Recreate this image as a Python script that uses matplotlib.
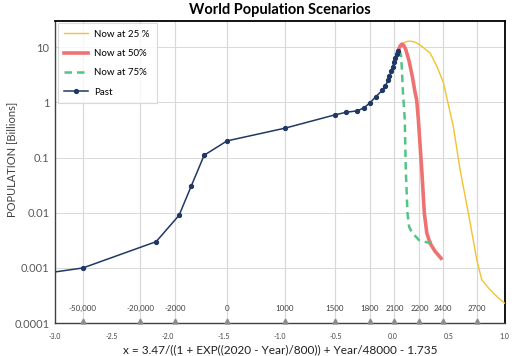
import matplotlib
matplotlib.use("Agg")
import matplotlib.pyplot as plt
import matplotlib.transforms as mtransforms

plt.rcParams["font.family"] = ["Lato", "DejaVu Sans"]

# past population (x on the compressed time scale, billions)
past_x = [-3.0, -2.754, -2.101, -1.897, -1.790, -1.674, -1.470, -0.954, -0.512, -0.408,
          -0.311, -0.254, -0.200, -0.147, -0.088, -0.062, -0.037, -0.026, -0.008,
          0.004, 0.016, 0.028, 0.040, 0.049]
past_y = [0.00085, 0.001, 0.003, 0.009, 0.03, 0.11, 0.2, 0.34, 0.59, 0.66,
          0.70, 0.79, 0.97, 1.26, 1.66, 1.99, 2.48, 2.93, 3.67,
          4.40, 5.42, 6.40, 7.46, 8.3]

# scenario curves
s25_x = [0.049, 0.07, 0.10, 0.13, 0.158, 0.20, 0.25, 0.30, 0.336, 0.396, 0.455,
         0.499, 0.543, 0.603, 0.677, 0.752, 0.796, 0.85, 0.899, 0.95, 1.0]
s25_y = [8.3, 10.0, 11.8, 12.6, 12.8, 12.3, 10.8, 8.9, 7.8, 4.5, 2.25,
         0.9, 0.365, 0.060, 0.0098, 0.0014, 0.00061, 0.00045, 0.00035, 0.00028, 0.00023]

s50_x = [0.049, 0.07, 0.085, 0.10, 0.12, 0.15, 0.18, 0.20, 0.217, 0.232, 0.262,
         0.276, 0.285, 0.307, 0.336, 0.381, 0.434]
s50_y = [8.3, 10.5, 11.3, 10.8, 9.0, 5.5, 2.8, 1.6, 1.1, 0.48, 0.060,
         0.020, 0.0098, 0.0043, 0.0028, 0.0020, 0.0015]

s75_x = [0.049, 0.065, 0.078, 0.085, 0.095, 0.104, 0.111, 0.12, 0.135, 0.15,
         0.179, 0.238, 0.311, 0.37]
s75_y = [8.3, 8.2, 7.0, 4.0, 1.5, 0.8, 0.48, 0.060, 0.0098, 0.0055,
         0.0043, 0.0032, 0.0029, 0.0029]

# year markers along the bottom axis
year_labels = ["-50,000", "-20,000", "-2000", "0", "1000", "1500", "1800",
               "2100", "2200", "2400", "2700"]
year_x = [-2.754, -2.244, -1.930, -1.472, -0.956, -0.512, -0.200,
          0.019, 0.241, 0.449, 0.752]

x_ticks = [-3.0, -2.5, -2.0, -1.5, -1.0, -0.5, 0.0, 0.5, 1.0]
y_ticks = [0.0001, 0.001, 0.01, 0.1, 1, 10]
y_ticklabels = ["0.0001", "0.001", "0.01", "0.1", "1", "10"]

fig = plt.figure(figsize=(5.15, 3.56), dpi=100)
ax = fig.add_axes([0.107, 0.092, 0.873, 0.850])

ax.set_yscale("log")
ax.set_xlim(-3.0, 1.0)
ax.set_ylim(0.0001, 30)

for xv in year_x:
    ax.axvline(xv, color="#d9d9d9", lw=0.9, zorder=0)
for yv in y_ticks[1:]:
    ax.axhline(yv, color="#d9d9d9", lw=0.7, zorder=0)

ax.plot(s25_x, s25_y, color="#f2c230", lw=1.0, label="Now at 25 %", zorder=3)
ax.plot(s50_x, s50_y, color="#ee7272", lw=2.6, label="Now at 50%", zorder=4)
ax.plot(s75_x, s75_y, color="#52c486", lw=1.8, ls=(0, (3, 2)), label="Now at 75%", zorder=5)
ax.plot(past_x, past_y, color="#1f3864", lw=1.1, marker="o", ms=2.8,
        markevery=list(range(1, len(past_x))), label="Past", zorder=6)

trans = mtransforms.blended_transform_factory(ax.transData, ax.transAxes)
for xv, lab in zip(year_x, year_labels):
    ax.text(xv, 0.036, lab, transform=trans, ha="center", va="bottom",
            fontsize=5.8, color="#404040")
ax.plot(year_x, [0.006] * len(year_x), transform=trans, ls="none", marker="^",
        ms=3.5, color="#8c8c8c", clip_on=False, zorder=7)

ax.set_xticks(x_ticks)
ax.set_xticklabels([f"{v:.1f}" for v in x_ticks], fontsize=5, color="#404040")
ax.set_yticks(y_ticks)
ax.set_yticklabels(y_ticklabels, fontsize=8, color="#595959")
ax.minorticks_off()
ax.tick_params(axis="both", length=0, pad=4)
ax.tick_params(axis="x", pad=7)

for side in ["top", "right"]:
    ax.spines[side].set_color("black")
    ax.spines[side].set_linewidth(1.3)
for side in ["left", "bottom"]:
    ax.spines[side].set_color("#404040")
    ax.spines[side].set_linewidth(1.0)

ax.set_title("World Population Scenarios", fontsize=10.5, fontweight="bold", pad=5)
ax.set_ylabel("POPULATION [Billions]", fontsize=8, color="#404040")
ax.yaxis.set_label_coords(-0.085, 0.54)
ax.set_xlabel("x = 3.47/((1 + EXP((2020 - Year)/800)) + Year/48000 - 1.735",
              fontsize=8.5, color="#202020", labelpad=3)

leg = ax.legend(loc="upper left", fontsize=7, frameon=True, fancybox=False,
                edgecolor="#d0d0d0", labelspacing=1.05, handlelength=2.4,
                borderpad=0.7, borderaxespad=0.25, handletextpad=0.7)
leg.get_frame().set_linewidth(0.8)

fig.savefig("out.png", dpi=100)
